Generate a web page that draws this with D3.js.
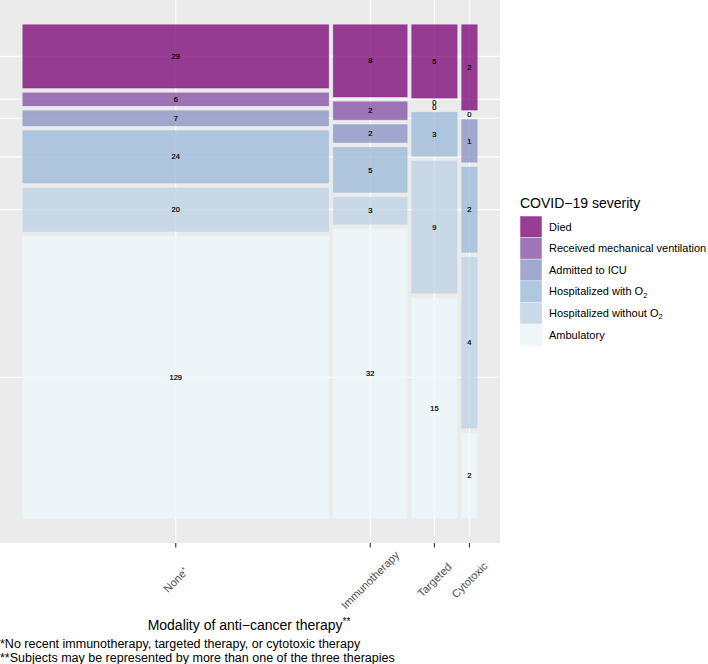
<!DOCTYPE html>
<html><head><meta charset="utf-8">
<script src="https://cdn.jsdelivr.net/npm/d3@7"></script>
<style>body{margin:0;background:#fff} text{font-family:"Liberation Sans",Arial,Helvetica,sans-serif}</style>
</head><body><svg id="c" width="708" height="664"></svg>
<script>
// ---- data ----
const therapies = ["None*", "Immunotherapy", "Targeted", "Cytotoxic"];
const severities = ["Died", "Received mechanical ventilation", "Admitted to ICU",
  "Hospitalized with O2", "Hospitalized without O2", "Ambulatory"];
const died       = [29, 8, 5, 2];
const mechVent   = [6, 2, 0, 0];
const icu        = [7, 2, 0, 1];
const hospO2     = [24, 5, 3, 2];
const hospNoO2   = [20, 3, 9, 4];
const ambulatory = [129, 32, 15, 2];
const severityColors = ["#810F7C", "#8856A7", "#8C96C6", "#9EBCDA", "#BFD3E6", "#EDF8FB"];
const seriesList = [died, mechVent, icu, hospO2, hospNoO2, ambulatory];

// ---- layout (mosaic) ----
const offset = 0.01;
const svg = d3.select("#c");
const panel = {x0: 0, x1: 500, y0: 0, y1: 543};
const colTotals = therapies.map((t, i) => d3.sum(seriesList, s => s[i]));
const grand = d3.sum(colTotals);
const xMax = 1 + offset * (therapies.length - 1);
const yMax = 1 + offset * (severities.length - 1);
const x = d3.scaleLinear().domain([-0.05 * xMax, xMax * 1.05]).range([panel.x0, panel.x1]);
const y = d3.scaleLinear().domain([-0.05 * yMax, yMax * 1.05]).range([panel.y1, panel.y0]);

const cells = [];
const cols = [];
let cx = 0;
therapies.forEach((t, i) => {
  const w = colTotals[i] / grand;
  cols.push({name: t, xmin: cx, xmax: cx + w});
  let cy = 0;
  for (let j = severities.length - 1; j >= 0; j--) {
    const h = seriesList[j][i] / colTotals[i];
    cells.push({col: i, sev: j, n: seriesList[j][i], xmin: cx, xmax: cx + w, ymin: cy, ymax: cy + h});
    cy += h + offset;
  }
  cx += w + offset;
});

// panel background
svg.append("rect").attr("x", panel.x0).attr("y", panel.y0)
  .attr("width", panel.x1 - panel.x0).attr("height", panel.y1 - panel.y0).attr("fill", "#EBEBEB");

// gridlines
const xBreaks = cols.map(c => (c.xmin + c.xmax) / 2);
const yBreaks = cells.filter(c => c.col === 0).map(c => (c.ymin + c.ymax) / 2);
svg.append("g").selectAll("line").data(xBreaks).join("line")
  .attr("x1", d => x(d)).attr("x2", d => x(d)).attr("y1", panel.y0).attr("y2", panel.y1)
  .attr("stroke", "#fff").attr("stroke-width", 1.1);
svg.append("g").selectAll("line").data(yBreaks).join("line")
  .attr("y1", d => y(d)).attr("y2", d => y(d)).attr("x1", panel.x0).attr("x2", panel.x1)
  .attr("stroke", "#fff").attr("stroke-width", 1.1);

// tiles
svg.append("g").selectAll("rect").data(cells).join("rect")
  .attr("x", d => x(d.xmin)).attr("y", d => y(d.ymax))
  .attr("width", d => x(d.xmax) - x(d.xmin)).attr("height", d => y(d.ymin) - y(d.ymax))
  .attr("fill", d => severityColors[d.sev]).attr("fill-opacity", 0.8)
  .attr("stroke", d => severityColors[d.sev]).attr("stroke-opacity", 0.35).attr("stroke-width", 0.8);

// counts
svg.append("g").selectAll("text").data(cells).join("text")
  .attr("x", d => x((d.xmin + d.xmax) / 2)).attr("y", d => y((d.ymin + d.ymax) / 2))
  .attr("dy", "0.35em").attr("text-anchor", "middle")
  .attr("font-size", 7.5).attr("fill", "#000").attr("stroke", "#000").attr("stroke-width", 0.2)
  .text(d => d.n);

// x ticks & labels
svg.append("g").selectAll("line").data(xBreaks).join("line")
  .attr("x1", d => x(d)).attr("x2", d => x(d)).attr("y1", panel.y1).attr("y2", panel.y1 + 4.5)
  .attr("stroke", "#333").attr("stroke-width", 1.1);
svg.append("g").selectAll("text").data(cols).join("text")
  .attr("transform", d => `translate(${x((d.xmin + d.xmax) / 2)},580) rotate(-45)`)
  .attr("text-anchor", "middle").attr("dy", "0.35em")
  .attr("font-size", 11).attr("fill", "#4D4D4D")
  .each(function(d) {
    const t = d3.select(this);
    if (d.name.endsWith("*")) {
      t.append("tspan").text(d.name.slice(0, -1));
      t.append("tspan").attr("font-size", 8).attr("dy", "-0.35em").text("*");
    } else t.text(d.name);
  });

// axis title
const title = svg.append("text").attr("x", 249).attr("y", 630).attr("text-anchor", "middle")
  .attr("font-size", 14).attr("fill", "#000");
title.append("tspan").text("Modality of anti\u2212cancer therapy");
title.append("tspan").attr("font-size", 10).attr("dy", "-0.55em").text("**");

// caption
const caption = ["*No recent immunotherapy, targeted therapy, or cytotoxic therapy",
  "**Subjects may be represented by more than one of the three therapies"];
svg.append("g").selectAll("text").data(caption).join("text")
  .attr("x", 0).attr("y", (d, i) => 648 + i * 13.5)
  .attr("font-size", 12.5).attr("fill", "#000").text(d => d);

// legend
const lg = svg.append("g").attr("transform", "translate(520,0)");
lg.append("text").attr("x", 0).attr("y", 208).attr("font-size", 14).attr("fill", "#000")
  .text("COVID\u221219 severity");
const keyH = 21.6, keyW = 22, key0 = 216;
severities.forEach((s, j) => {
  const ky = key0 + j * keyH;
  lg.append("rect").attr("x", 0).attr("y", ky).attr("width", keyW).attr("height", keyH).attr("fill", "#F2F2F2");
  lg.append("rect").attr("x", 0.5).attr("y", ky + 0.5).attr("width", keyW - 1).attr("height", keyH - 1)
    .attr("fill", severityColors[j]).attr("fill-opacity", 0.8)
    .attr("stroke", severityColors[j]).attr("stroke-opacity", 0.35).attr("stroke-width", 0.8);
  const t = lg.append("text").attr("x", 29).attr("y", ky + keyH / 2).attr("dy", "0.35em")
    .attr("font-size", 11).attr("fill", "#000");
  if (s.endsWith("O2")) {
    t.append("tspan").text(s.slice(0, -1));
    t.append("tspan").attr("font-size", 7.5).attr("dy", "0.3em").text("2");
  } else t.text(s);
});
</script></body></html>
